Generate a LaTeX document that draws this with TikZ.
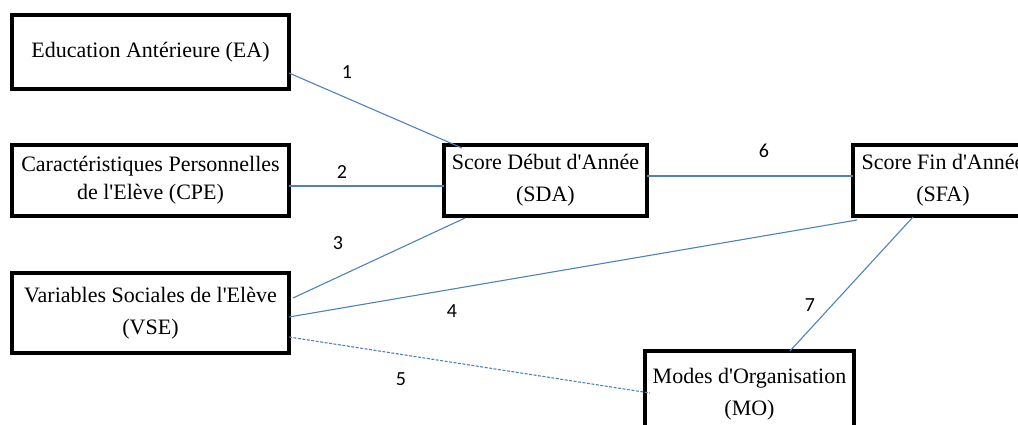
\documentclass[tikz,border=0pt]{standalone}
\usepackage{fontspec}
\setmainfont{Liberation Serif}
\newfontfamily\numfont{Carlito}
\definecolor{linkblue}{HTML}{4F81BD}
\newcommand\ap{\textquotesingle}
\begin{document}
\begin{tikzpicture}[
  x=1pt, y=-1pt,
  every node/.style={inner sep=0pt, outer sep=0pt},
  box/.style={draw=black, line width=3.2pt, align=center, font=\fontsize{22}{32}\selectfont},
  link/.style={linkblue, line width=1.1pt},
  num/.style={font=\numfont\fontsize{20}{22}\selectfont}
]

  % ==========================================
  % 1. CADRE (l'image est coupee a droite et en bas)
  % ==========================================
  \useasboundingbox (0,0) rectangle (1018,424);
  \clip (0,0) rectangle (1018,424);

  % ==========================================
  % 2. BOITES
  % ==========================================
  \node[box, minimum width=277pt, minimum height=74pt] (ea) at (150.5,52) {Education Antérieure (EA)};
  \node[box, minimum width=277pt, minimum height=71pt, font=\fontsize{22}{28}\selectfont] (cpe) at (150.5,180.5) {Caractéristiques Personnelles\\de l\ap Elève (CPE)};
  \node[box, minimum width=277pt, minimum height=80pt] (vse) at (150.5,313) {Variables Sociales de l\ap Elève\\(VSE)};
  \node[box, minimum width=203pt, minimum height=71pt] (sda) at (545.5,180.5) {Score Début d\ap Année\\(SDA)};
  \node[box, minimum width=180pt, minimum height=71pt] (sfa) at (943,180.5) {Score Fin d\ap Année\\(SFA)};
  \node[box, minimum width=209pt, minimum height=86pt] (mo) at (749.5,394) {Modes d\ap Organisation\\(MO)};

  % ==========================================
  % 3. LIENS
  % ==========================================
  \draw[link] ([yshift=-21pt]ea.east) -- ([xshift=18pt,yshift=-3pt]sda.north west);
  \draw[link] ([yshift=-5.5pt]cpe.east) -- ([yshift=-5.5pt]sda.west);
  \draw[link] ([xshift=4pt,yshift=15pt]vse.east) -- ([xshift=21pt,yshift=-2pt]sda.south west);
  \draw[link] ([yshift=-4pt]vse.east) -- ([xshift=4pt,yshift=-4pt]sfa.south west);
  \draw[link, dash pattern=on 3pt off 1.5pt] ([yshift=-24pt]vse.east) -- ([xshift=5pt,yshift=1pt]mo.west);
  \draw[link] ([yshift=4.5pt]sda.east) -- ([yshift=4.5pt]sfa.west);
  \draw[link] ([xshift=-30pt,yshift=-1pt]sfa.south) -- ([xshift=40.5pt]mo.north);

  % numeros des liens
  \node[num] (n1) at (347,72) {1};
  \node[num] (n2) at (342,172) {2};
  \node[num] (n3) at (338,243) {3};
  \node[num] (n4) at (452,311) {4};
  \node[num] (n5) at (401,379) {5};
  \node[num] (n6) at (764,151) {6};
  \node[num] (n7) at (810,305) {7};

\end{tikzpicture}
\end{document}
